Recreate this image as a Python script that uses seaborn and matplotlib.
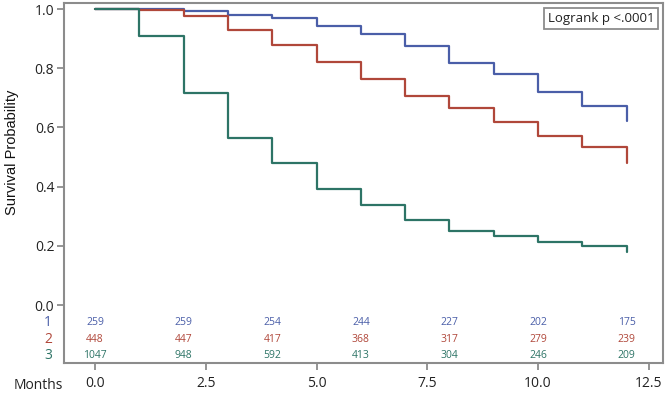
import pandas as pd
import matplotlib
matplotlib.use('Agg')
import matplotlib.pyplot as plt
import matplotlib.transforms as mtransforms
import seaborn as sns

# Kaplan-Meier step values (value after each monthly step)
months = [0, 1, 2, 3, 4, 5, 6, 7, 8, 9, 10, 11, 12]
surv_1 = [1.0, 1.0, 0.995, 0.981, 0.969, 0.942, 0.917, 0.875, 0.817, 0.780, 0.719, 0.673, 0.622]
surv_2 = [1.0, 0.997, 0.977, 0.929, 0.878, 0.821, 0.764, 0.706, 0.667, 0.619, 0.571, 0.534, 0.479]
surv_3 = [1.0, 0.909, 0.717, 0.566, 0.479, 0.393, 0.338, 0.287, 0.251, 0.233, 0.212, 0.199, 0.178]

# Numbers at risk
risk_times = [0, 2, 4, 6, 8, 10, 12]
risk_1 = [259, 259, 254, 244, 227, 202, 175]
risk_2 = [448, 447, 417, 368, 317, 279, 239]
risk_3 = [1047, 948, 592, 413, 304, 246, 209]

groups = ['1', '2', '3']
colors = {'1': '#4A5EA8', '2': '#B0473A', '3': '#2D7466'}
grey = '#8C8C8C'

df = pd.concat([
    pd.DataFrame({'Months': months, 'Survival': s, 'Group': g})
    for g, s in zip(groups, [surv_1, surv_2, surv_3])
], ignore_index=True)

sns.set_style('white')
plt.rcParams['font.family'] = ['Open Sans', 'DejaVu Sans']

fig = plt.figure(figsize=(6.67, 3.93), dpi=100)
ax = fig.add_axes([0.096, 0.076, 0.898, 0.916])

sns.lineplot(data=df, x='Months', y='Survival', hue='Group', palette=colors,
             drawstyle='steps-post', estimator=None, sort=False,
             linewidth=1.6, legend=False, ax=ax)

ax.set_xlim(-0.7, 12.82)
ax.set_ylim(-0.196, 1.02)
ax.set_xticks([0, 2.5, 5, 7.5, 10, 12.5])
ax.set_xticklabels(['0.0', '2.5', '5.0', '7.5', '10.0', '12.5'])
ax.set_yticks([0, 0.2, 0.4, 0.6, 0.8, 1.0])
ax.set_yticklabels(['0.0', '0.2', '0.4', '0.6', '0.8', '1.0'])
ax.tick_params(axis='both', direction='out', length=5, width=1.3, color=grey,
               labelsize=10, labelcolor='#222222', pad=2,
               bottom=True, left=True)
ax.tick_params(axis='x', pad=4)
for sp in ax.spines.values():
    sp.set_color(grey)
    sp.set_linewidth(1.5)

ax.set_xlabel('')
ax.set_ylabel('Survival Probability', family=['Liberation Sans', 'DejaVu Sans'],
              fontsize=10.5, color='#111111')
ax.yaxis.set_label_coords(-0.075, 0.586)

# At-risk table inside the plot area
risk_y = [-0.06, -0.115, -0.171]
trans = mtransforms.blended_transform_factory(ax.transAxes, ax.transData)
for g, counts, yy in zip(groups, [risk_1, risk_2, risk_3], risk_y):
    for t, n in zip(risk_times, counts):
        ax.text(t, yy, str(n), color=colors[g], fontsize=7.5, ha='center', va='center')
    ax.text(-0.027, yy, g, color=colors[g], fontsize=10, ha='center', va='center',
            transform=trans)

ax.text(-0.043, -0.062, 'Months', fontsize=10, color='#222222', ha='center',
        va='center', transform=ax.transAxes)

ax.text(0.985, 0.958, 'Logrank p <.0001', fontsize=9.5, color='#222222',
        ha='right', va='center', transform=ax.transAxes,
        bbox=dict(boxstyle='square,pad=0.3', facecolor='white', edgecolor=grey, linewidth=1.3))

fig.savefig('out.png', dpi=100)
